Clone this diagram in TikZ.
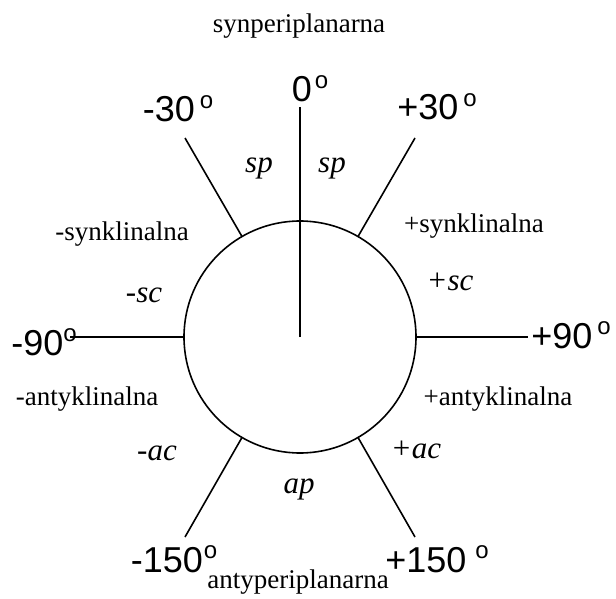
\documentclass[tikz,border=0pt]{standalone}
\usepackage{fontspec}
\setmainfont{Liberation Serif}
\newfontfamily\arialfont{Liberation Sans}
\usepackage{tikz}
\newcommand{\degring}{\raisebox{13.5pt}{\fontsize{24}{24}\selectfont o}}

\begin{document}
\begin{tikzpicture}[x=1pt,y=-1pt,every node/.style={inner sep=0pt,anchor=base},
  angle/.style={font=\arialfont\fontsize{36}{39}\selectfont},
  region/.style={font=\fontsize{27}{30}\selectfont},
  abbr/.style={font=\itshape\fontsize{31}{34}\selectfont},
  bond/.style={line width=1.6pt}]
\useasboundingbox (0,0) rectangle (616,599);
% dial
\node[draw,circle,bond,minimum size=232pt,anchor=center] (ring) at (300,337) {};
\coordinate (c) at (300,337);
\coordinate (e0) at (300,107);
\coordinate (em30) at (185,138);
\coordinate (ep30) at (415,138);
\coordinate (em90) at (70,337);
\coordinate (ep90) at (528,337);
\coordinate (em150) at (185,537);
\coordinate (ep150) at (415,537);
\draw[bond] (c) -- (e0);
\draw[bond] (ring.120) -- (em30);
\draw[bond] (ring.60) -- (ep30);
\draw[bond] (ring.180) -- (em90);
\draw[bond] (ring.0) -- (ep90);
\draw[bond] (ring.240) -- (em150);
\draw[bond] (ring.300) -- (ep150);
% angles
\node[angle] (a0) at (310,102) {0\hspace{3pt}\degring};
\node[angle] (am30) at (178,122) {-30\hspace{5pt}\degring};
\node[angle] (ap30) at (437,120) {+30\hspace{5pt}\degring};
\node[angle] (am90) at (44,355) {-90\hspace{0pt}\degring};
\node[angle] (ap90) at (571,348) {+90\hspace{5pt}\degring};
\node[angle] (am150) at (174,572) {-150\hspace{1pt}\degring};
\node[angle] (ap150) at (437,572) {+150\hspace{9pt}\degring};
% names
\node[region] (syn) at (299,33) {synperiplanarna};
\node[region] (msyn) at (122,240) {-synklinalna};
\node[region] (psyn) at (474,233) {+synklinalna};
\node[region] (manty) at (87,405) {-antyklinalna};
\node[region] (panty) at (498,405) {+antyklinalna};
\node[region] (anty) at (298,588) {antyperiplanarna};
% abbreviations
\node[abbr] (spl) at (259,173) {sp};
\node[abbr] (spr) at (332,173) {sp};
\node[abbr] (msc) at (144,302) {-sc};
\node[abbr] (psc) at (450,290) {+sc};
\node[abbr] (mac) at (157,460) {-ac};
\node[abbr] (pac) at (416,458) {+ac};
\node[abbr] (ap) at (299,493) {ap};
\end{tikzpicture}
\end{document}
